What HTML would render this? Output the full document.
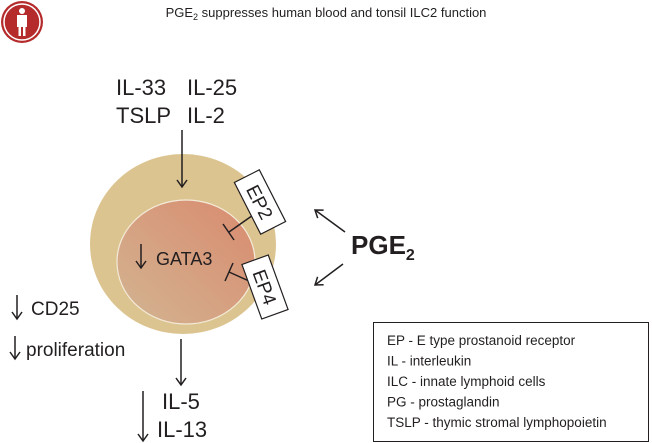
<!DOCTYPE html>
<html><head><meta charset="utf-8"><style>
html,body{margin:0;padding:0;background:#fff}
svg{display:block}
text{font-family:"Liberation Sans",Arial,sans-serif;fill:#231f20}
</style></head><body>
<svg width="652" height="443" viewBox="0 0 652 443" xmlns="http://www.w3.org/2000/svg">
<defs>
<linearGradient id="g" x1="0" y1="1" x2="1" y2="0">
<stop offset="0" stop-color="#d2b592"/>
<stop offset="1" stop-color="#d98a6e"/>
</linearGradient>
<marker id="ah" markerWidth="12" markerHeight="12" refX="10" refY="6" orient="auto" markerUnits="userSpaceOnUse" viewBox="0 0 12 12"><path d="M3,1 L10,6 L3,11" fill="none" stroke="#231f20" stroke-width="1.5"/></marker>
</defs>
<!-- logo -->
<circle cx="22" cy="22" r="21" fill="#b52a2a"/>
<circle cx="22" cy="22" r="18" fill="none" stroke="#fff" stroke-width="1.5"/>
<circle cx="22" cy="11" r="3" fill="#fff"/>
<path d="M17,15 H27 V27 H25.5 V36 H23 V27 H21 V36 H18.5 V27 H17 Z" fill="#fff"/>
<text x="326" y="17" font-size="13" text-anchor="middle">PGE<tspan font-size="9" dy="3">2</tspan><tspan dy="-3"> suppresses human blood and tonsil ILC2 function</tspan></text>
<!-- inputs -->
<text x="116" y="95" font-size="22">IL-33</text>
<text x="187" y="95" font-size="22">IL-25</text>
<text x="116" y="123" font-size="22">TSLP</text>
<text x="187" y="123" font-size="22">IL-2</text>
<!-- cell -->
<ellipse cx="183" cy="244" rx="93" ry="90" fill="#dcc490"/>
<ellipse cx="186" cy="262" rx="69" ry="62" fill="url(#g)" stroke="#f3ead8" stroke-width="1.2"/>
<line x1="182" y1="130" x2="182" y2="187" stroke="#231f20" stroke-width="1.5" marker-end="url(#ah)"/>
<line x1="141" y1="244" x2="141" y2="268" stroke="#231f20" stroke-width="1.5" marker-end="url(#ah)"/>
<text x="156" y="265" font-size="18">GATA3</text>
<!-- inhibitions -->
<line x1="256" y1="213" x2="229" y2="232" stroke="#231f20" stroke-width="1.5"/>
<line x1="223" y1="224" x2="234" y2="240" stroke="#231f20" stroke-width="1.5"/>
<line x1="258" y1="285" x2="229" y2="272" stroke="#231f20" stroke-width="1.5"/>
<line x1="225" y1="281" x2="233" y2="263" stroke="#231f20" stroke-width="1.5"/>
<!-- receptors -->
<g transform="translate(260,202) rotate(63)">
<rect x="-29" y="-14" width="58" height="28" fill="#fff" stroke="#231f20" stroke-width="1.2"/>
<text x="0" y="7" font-size="19" text-anchor="middle">EP2</text>
</g>
<g transform="translate(265,287) rotate(70)">
<rect x="-29" y="-14" width="58" height="28" fill="#fff" stroke="#231f20" stroke-width="1.2"/>
<text x="0" y="7" font-size="19" text-anchor="middle">EP4</text>
</g>
<!-- PGE2 -->
<text x="351" y="254" font-size="26" font-weight="bold">PGE<tspan font-size="16" dy="6">2</tspan></text>
<line x1="345" y1="232" x2="315" y2="210" stroke="#231f20" stroke-width="1.5" marker-end="url(#ah)"/>
<line x1="343" y1="264" x2="315" y2="285" stroke="#231f20" stroke-width="1.5" marker-end="url(#ah)"/>
<!-- outputs -->
<line x1="17" y1="295" x2="17" y2="319" stroke="#231f20" stroke-width="1.5" marker-end="url(#ah)"/>
<text x="31" y="315" font-size="19">CD25</text>
<line x1="15" y1="336" x2="15" y2="359" stroke="#231f20" stroke-width="1.5" marker-end="url(#ah)"/>
<text x="26" y="356" font-size="19">proliferation</text>
<line x1="181" y1="339" x2="181" y2="385" stroke="#231f20" stroke-width="1.5" marker-end="url(#ah)"/>
<text x="162" y="409" font-size="22">IL-5</text>
<text x="157" y="437" font-size="22">IL-13</text>
<line x1="143" y1="391" x2="143" y2="441" stroke="#231f20" stroke-width="1.5" marker-end="url(#ah)"/>
<!-- legend -->
<rect x="373.5" y="322.5" width="275" height="119" fill="#fff" stroke="#231f20" stroke-width="1"/>
<text x="387" y="345" font-size="13.5">EP - E type prostanoid receptor</text>
<text x="387" y="365.5" font-size="13.5">IL - interleukin</text>
<text x="387" y="386" font-size="13.5">ILC - innate lymphoid cells</text>
<text x="387" y="406.5" font-size="13.5">PG - prostaglandin</text>
<text x="387" y="427" font-size="13.5">TSLP - thymic stromal lymphopoietin</text>
</svg>
</body></html>
